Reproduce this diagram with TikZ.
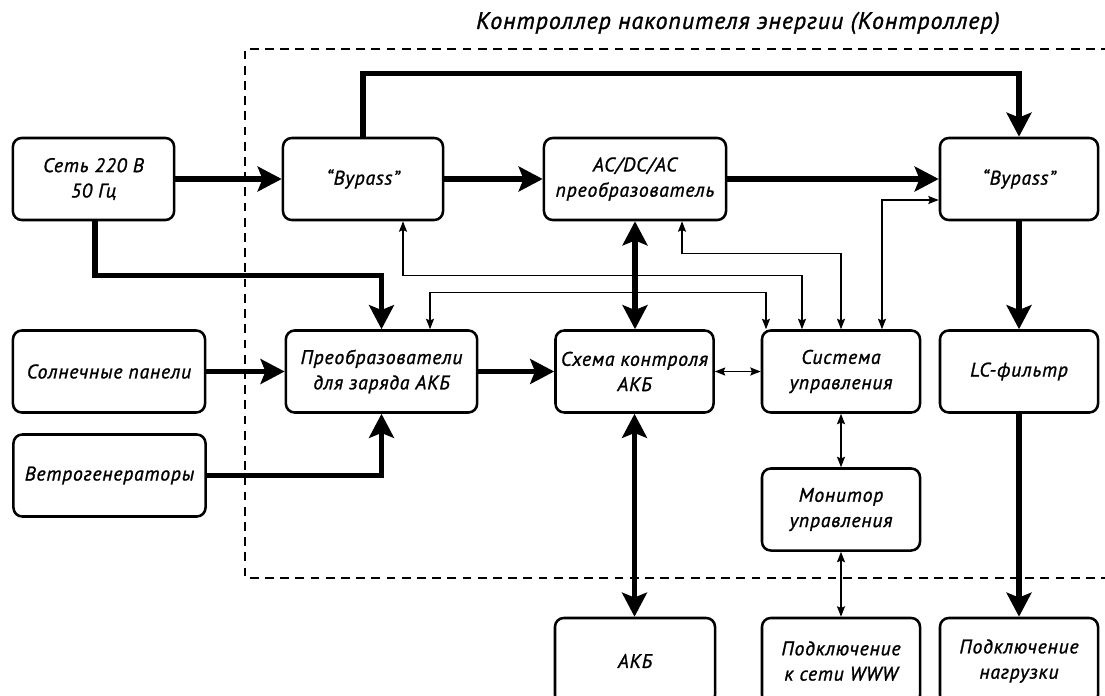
\documentclass[tikz,border=0pt]{standalone}
\usepackage{fontspec}
\setmainfont{PT Sans}
\newfontfamily\gostfont{PT Sans}[LetterSpace=4, FakeBold=1.2]
\usetikzlibrary{positioning,calc,arrows.meta}

\tikzset{
  block/.style={draw, line width=1.8pt, rounded corners=0.22cm, inner sep=0pt,
    minimum width=3.95cm, minimum height=2.05cm, align=center,
    font=\gostfont\itshape\fontsize{14}{18}\selectfont},
  wideblock/.style={block, minimum width=4.8cm},
  lowblock/.style={block, minimum height=2.15cm},
  power/.style={line width=3.6pt, -{Stealth[length=0.6cm, width=0.62cm, inset=0.12cm]}},
  powerboth/.style={line width=3.6pt, {Stealth[length=0.6cm, width=0.62cm, inset=0.12cm]}-{Stealth[length=0.6cm, width=0.62cm, inset=0.12cm]}},
  signal/.style={line width=1pt, {Stealth[length=0.26cm, width=0.2cm, inset=0.04cm]}-{Stealth[length=0.26cm, width=0.2cm, inset=0.04cm]}},
  frame/.style={line width=2pt, dash pattern=on 0.22cm off 0.16cm}
}

\begin{document}
\begin{tikzpicture}[x=0.025cm, y=-0.025cm]
  \useasboundingbox (0,0) rectangle (1105,696);
  \clip (0,0) rectangle (1105,696);

  % controller frame
  \draw[frame] (1110,49) -- (245,49) -- (245,578) -- (1110,578);
  \node[font=\gostfont\itshape\fontsize{17}{20}\selectfont] (title) at (738,23)
    {Контроллер накопителя энергии (Контроллер)};

  % blocks
  \node[block, minimum width=4.03cm] (grid) at (93.5,179) {Сеть 220 В\\50 Гц};
  \node[block, minimum width=4cm] (byp1) at (363,179) {\char"201C Bypass\char"201D};
  \node[block, minimum width=4.55cm] (conv) at (635,179) {AC/DC/AC\\преобразователь};
  \node[block] (byp2) at (1019,179) {\char"201C Bypass\char"201D};

  \node[wideblock] (sun) at (109,371.5) {Солнечные панели};
  \node[wideblock] (wind) at (109.5,475.5) {Ветрогенераторы};
  \node[block, minimum width=4.78cm] (charge) at (381.5,371.5) {Преобразователи\\для заряда АКБ};
  \node[block] (bms) at (634.5,371.5) {Схема контроля\\АКБ};
  \node[block] (ctrl) at (841,371.5) {Система\\управления};
  \node[block] (lc) at (1019,371.5) {LC-фильтр};
  \node[block] (mon) at (841,509.5) {Монитор\\управления};

  \node[lowblock, minimum width=4cm] (akb) at (635,661) {АКБ};
  \node[lowblock] (www) at (841,661) {Подключение\\к сети WWW};
  \node[lowblock] (load) at (1019,661) {Подключение\\нагрузки};

  % power lines
  \draw[power] (grid) -- (byp1);
  \draw[power] (byp1) -- (conv);
  \draw[power] (conv) -- (byp2);
  \draw[power] (byp1.north) -- ++(0,-63) -| (byp2.north);
  \draw[power] ($(grid.south)+(1.5,0)$) -- ++(0,54) -| (charge.north);
  \draw[power] (sun) -- (charge);
  \draw[power] (wind.east) -| (charge.south);
  \draw[power] (charge) -- (bms);
  \draw[powerboth] (conv.south) -- (conv.south |- bms.north);
  \draw[powerboth] (bms.south) -- (bms.south |- akb.north);
  \draw[power] (byp2) -- (lc);
  \draw[power] (lc) -- (load);

  % control lines
  \draw[signal] (bms) -- (ctrl);
  \draw[signal] (ctrl) -- (mon);
  \draw[signal] (mon) -- (www);
  \draw[signal] ($(byp1.south)+(40,0)$) -- ++(0,54) -| ($(ctrl.north)+(-39,0)$);
  \draw[signal] ($(charge.north)+(48.5,0)$) -- ++(0,-37) -| ($(ctrl.north)+(-75,0)$);
  \draw[signal] ($(conv.south)+(47,0)$) -- ++(0,32) -| (ctrl.north);
  \draw[signal] ($(byp2.west)+(0,21)$) -| ($(ctrl.north)+(41,0)$);
\end{tikzpicture}
\end{document}
